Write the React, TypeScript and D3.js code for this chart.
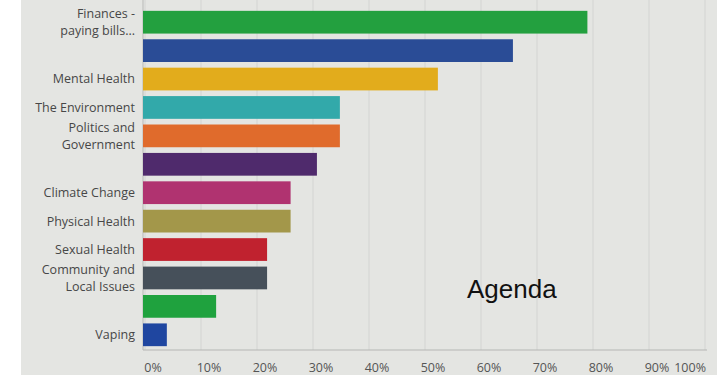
import React from "react";
import * as d3 from "d3";

const categories: string[] = [
  "Finances -\npaying bills...",
  "",
  "Mental Health",
  "The Environment",
  "Politics and\nGovernment",
  "",
  "Climate Change",
  "Physical Health",
  "Sexual Health",
  "Community and\nLocal Issues",
  "",
  "Vaping",
];
const values: number[] = [79, 65.7, 52.3, 34.8, 34.8, 30.7, 26, 26, 21.8, 21.8, 12.7, 3.9];
const colors: string[] = [
  "#23a03f", "#2a4c96", "#e2ac1c", "#32a9aa", "#e06b2c", "#4f2a6c",
  "#b03370", "#a3974a", "#c0222f", "#46505a", "#1fa23e", "#1f46a0",
];
const ticks: number[] = [0, 10, 20, 30, 40, 50, 60, 70, 80, 90, 100];

const W = 717;
const H = 375;

export default function App() {
  const x = d3.scaleLinear().domain([0, 100]).range([145, 705]);
  const idx = categories.map((_, i) => String(i));
  const y = d3.scaleBand().domain(idx).range([8, 349]).paddingInner(0.2).paddingOuter(0.1);
  const font = "'Open Sans', 'DejaVu Sans', sans-serif";
  return (
    <div style={{ position: "fixed", left: 0, top: 0 }}>
      <svg width={W} height={H} style={{ display: "block" }}>
        <rect x={0} y={0} width={W} height={H} fill="#ffffff" />
        <rect x={21} y={0} width={W - 21} height={H} fill="#e4e5e2" />
        {ticks.map((t) => (
          <line key={"g" + t} x1={x(t)} x2={x(t)} y1={0} y2={350} stroke="#d3d4d2" strokeWidth={1} />
        ))}
        <line x1={143} x2={143} y1={0} y2={350} stroke="#b8b9b7" strokeWidth={1} />
        <line x1={143} x2={707} y1={350} y2={350} stroke="#b5b6b4" strokeWidth={1} />
        {values.map((v, i) => (
          <rect
            key={"b" + i}
            x={x(0) - 2}
            y={y(String(i))!}
            width={x(v) - x(0) + 2}
            height={y.bandwidth()}
            fill={colors[i]}
          />
        ))}
        {categories.map((c, i) => {
          const lines = c ? c.split("\n") : [];
          const cy = y(String(i))! + y.bandwidth() / 2;
          const lh = 17.5;
          return lines.map((ln, j) => (
            <text
              key={"l" + i + "-" + j}
              x={135}
              y={cy + (j - (lines.length - 1) / 2) * lh}
              dy="0.35em"
              textAnchor="end"
              fontFamily={font}
              fontSize={12.5}
              fill="#474747"
            >
              {ln}
            </text>
          ));
        })}
        {ticks.map((t) => (
          <text
            key={"t" + t}
            x={t === 100 ? 706 : x(t) + 8}
            y={372}
            textAnchor={t === 100 ? "end" : "middle"}
            fontFamily={font}
            fontSize={12.5}
            fill="#555"
          >
            {t + "%"}
          </text>
        ))}
        <text x={467} y={298} fontFamily="'Liberation Sans', Arial, sans-serif" fontSize={26} fill="#111">
          Agenda
        </text>
      </svg>
    </div>
  );
}
